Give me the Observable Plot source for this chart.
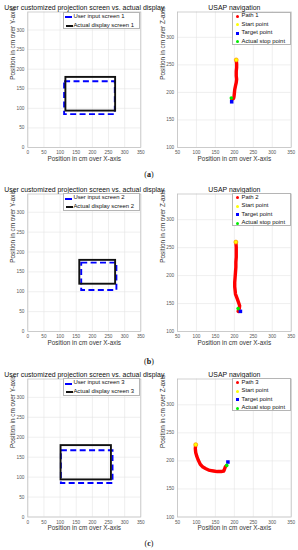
<!DOCTYPE html>
<html>
<head>
<meta charset="utf-8">
<script src="https://cdn.jsdelivr.net/npm/d3@7"></script>
<script src="https://cdn.jsdelivr.net/npm/@observablehq/plot@0.6"></script>
<style>
  html, body { margin: 0; padding: 0; background: #fff; }
  #page { position: relative; width: 298px; height: 550px; overflow: hidden; font-family: "Liberation Sans", Arial, sans-serif; }
  .panel { position: absolute; }
  .legend { position: absolute; background: #fff; border: 0.6px solid #b5b5b5; box-sizing: border-box; }
  .legend .row { position: absolute; left: 0; white-space: nowrap; font-size: 5.9px; line-height: 1; color: #111; }
  .legend .sw { position: absolute; }
  .sub { position: absolute; font-family: "Liberation Serif", "DejaVu Serif", serif; font-size: 8px; color: #111; transform: translate(-50%, -50%); }
</style>
</head>
<body>
<div id="page"></div>
<script>
// ---------- data ----------
const panelLetters = ["a", "b", "c"];
const screenTitle = "User customized projection screen vs. actual display";
const navTitle = "USAP navigation";
const screenXLabel = "Position in cm over X-axis";
const screenYLabel = "Position in cm over Y-axis";
const navXLabel = "Position in cm over X-axis";
const navYLabel = "Position in cm over Z-axis";

const xTicksScreen = [0, 50, 100, 150, 200, 250, 300, 350];
const yTicksScreen = [0, 50, 100, 150, 200, 250, 300];
const xTicksNav = [50, 100, 150, 200, 250, 300, 350];
const yTicksNav = [100, 150, 200, 250, 300];

const userLabels = ["User input screen 1", "User input screen 2", "User input screen 3"];
const actualLabels = ["Actual display screen 1", "Actual display screen 2", "Actual display screen 3"];
const pathLabels = ["Path 1", "Path 2", "Path 3"];
const pointLabels = ["Start point", "Target point", "Actual stop point"];

const userScreenX1 = [114, 167, 104];
const userScreenX2 = [271, 276, 264];
const userScreenY1 = [84, 103, 84];
const userScreenY2 = [168, 172, 166];

const actualScreenX1 = [118, 161, 103];
const actualScreenX2 = [272, 272, 259];
const actualScreenY1 = [93, 119, 93];
const actualScreenY2 = [179, 179, 179];

const path1X = [205, 206, 206, 205, 205, 206, 205, 203, 201, 200, 199, 198, 195, 193];
const path1Y = [259, 252, 245, 238, 230, 224, 218, 212, 205, 198, 192, 189, 188, 188];
const path2X = [204, 205, 205, 205, 204, 204, 203, 202, 201, 201, 203, 208, 212, 214, 213, 211, 210];
const path2Y = [260, 251, 242, 233, 224, 215, 206, 197, 188, 180, 167, 158, 150, 146, 141, 138, 136];
const path3X = [98, 97, 98, 101, 105, 110, 117, 125, 135, 145, 155, 165, 172, 174, 176, 178];
const path3Y = [229, 222, 215, 208, 201, 194, 189, 186, 183, 182, 181, 181, 182, 185, 189, 191];

const startX = [205, 204, 98];
const startY = [259, 260, 229];
const targetX = [193, 216, 183];
const targetY = [183, 136, 198];
const stopX = [192, 210, 180];
const stopY = [190, 141, 192];

const pathsX = [path1X, path2X, path3X];
const pathsY = [path1Y, path2Y, path3Y];

// ---------- layout ----------
const W = 149, H = 183;
const rowTop = [0, 181.5, 366.5];
const frameTop = 11.5;
const frameH = [135.5, 137.5, 138];
const subLabelY = [174, 361, 543];

const RED = "#ff0000", YELLOW = "#ffff00", BLUE = "#0000ff", GREEN = "#00ee00";
const gridStyle = {stroke: "#e4e4e4", strokeOpacity: 1, strokeWidth: 0.6};
const plotStyle = {background: "transparent", overflow: "visible", fontFamily: "'Liberation Sans', Arial, sans-serif"};

function commonMarks(xt, yt, title, xl, yl) {
  return [
    Plot.gridX(xt, gridStyle),
    Plot.gridY(yt, gridStyle),
    Plot.frame({stroke: "#bdbdbd", strokeWidth: 0.7}),
    Plot.axisX(xt, {tickSize: 0, tickPadding: 3.2, fontSize: 4.7, color: "#555", label: null}),
    Plot.axisY(yt, {tickSize: 0, tickPadding: 3.4, fontSize: 4.7, color: "#555", label: null}),
    Plot.text([title], {text: d => d, frameAnchor: "top", dy: -7, fontSize: 6.9, fill: "#111"}),
    Plot.text([xl], {text: d => d, frameAnchor: "bottom", dy: 13, fontSize: 6.4, fill: "#333"}),
    Plot.text([yl], {text: d => d, frameAnchor: "left", dx: -14.5, rotate: -90, fontSize: 6.4, fill: "#333"})
  ];
}

function screenPanel(i) {
  const userRect = [{x1: userScreenX1[i], x2: userScreenX2[i], y1: userScreenY1[i], y2: userScreenY2[i]}];
  const actualRect = [{x1: actualScreenX1[i], x2: actualScreenX2[i], y1: actualScreenY1[i], y2: actualScreenY2[i]}];
  return Plot.plot({
    width: W, height: H,
    marginLeft: 27.3, marginRight: 8.7, marginTop: frameTop, marginBottom: H - frameTop - frameH[i],
    x: {domain: [0, 350], label: null},
    y: {domain: [0, 346], label: null},
    style: plotStyle,
    marks: [
      ...commonMarks(xTicksScreen, yTicksScreen, screenTitle, screenXLabel, screenYLabel),
      Plot.rect(userRect, {x1: "x1", x2: "x2", y1: "y1", y2: "y2", fill: "none", stroke: BLUE, strokeWidth: 1.9, strokeDasharray: "6,3.4"}),
      Plot.rect(actualRect, {x1: "x1", x2: "x2", y1: "y1", y2: "y2", fill: "none", stroke: "#111", strokeWidth: 1.9})
    ]
  });
}

function navPanel(i) {
  const pts = pathsX[i].map((x, k) => ({x, y: pathsY[i][k]}));
  return Plot.plot({
    width: W, height: H,
    marginLeft: 28, marginRight: 7.3, marginTop: frameTop, marginBottom: H - frameTop - frameH[i],
    x: {domain: [50, 350], label: null},
    y: {domain: [100, 346], label: null},
    style: plotStyle,
    marks: [
      ...commonMarks(xTicksNav, yTicksNav, navTitle, navXLabel, navYLabel),
      Plot.line(pts, {x: "x", y: "y", stroke: RED, strokeWidth: 3.4, strokeLinecap: "round", strokeLinejoin: "round"}),
      Plot.dot([{x: startX[i], y: startY[i]}], {x: "x", y: "y", r: 2, fill: YELLOW, stroke: "#ff9a00", strokeWidth: 0.7}),
      Plot.dot([{x: targetX[i], y: targetY[i]}], {x: "x", y: "y", r: 2, symbol: "square", fill: BLUE}),
      Plot.dot([{x: stopX[i], y: stopY[i]}], {x: "x", y: "y", r: 1.8, fill: GREEN})
    ]
  });
}

const page = document.getElementById("page");

function place(node, left, top) {
  const d = document.createElement("div");
  d.className = "panel";
  d.style.left = left + "px";
  d.style.top = top + "px";
  d.appendChild(node);
  page.appendChild(d);
  return d;
}

function legend(left, top, width, height, rows) {
  const box = document.createElement("div");
  box.className = "legend";
  Object.assign(box.style, {left: left + "px", top: top + "px", width: width + "px", height: height + "px"});
  for (const r of rows) {
    const sw = document.createElement("div");
    sw.className = "sw";
    Object.assign(sw.style, r.sw);
    box.appendChild(sw);
    const t = document.createElement("div");
    t.className = "row";
    t.textContent = r.text;
    t.style.left = r.tx + "px";
    t.style.top = (r.cy - 3.1) + "px";
    box.appendChild(t);
  }
  page.appendChild(box);
}

for (let i = 0; i < 3; i++) {
  place(screenPanel(i), 0, rowTop[i]);
  place(navPanel(i), 149, rowTop[i]);
  const ft = rowTop[i] + frameTop;

  legend(63, ft + 0.4, 77.3, 17.5, [
    {text: userLabels[i], tx: 9.4, cy: 4.2,
     sw: {left: "1.2px", top: "3.3px", width: "6.6px", height: "1.9px", background: BLUE}},
    {text: actualLabels[i], tx: 9.4, cy: 12.8,
     sw: {left: "1.8px", top: "11.9px", width: "7.2px", height: "1.9px", background: "#111"}}
  ]);

  const dot = (c, cy, sq) => ({left: "2.6px", top: (cy - 1.6) + "px", width: "3.2px", height: "3.2px", background: c, borderRadius: sq ? "0" : "50%"});
  legend(232.3, ft, 58.4, 33, [
    {text: pathLabels[i], tx: 8.2, cy: 3.9, sw: dot(RED, 3.9)},
    {text: pointLabels[0], tx: 8.2, cy: 12.4, sw: dot(YELLOW, 12.4)},
    {text: pointLabels[1], tx: 8.2, cy: 20.9, sw: dot(BLUE, 20.9, true)},
    {text: pointLabels[2], tx: 8.2, cy: 29.2, sw: dot(GREEN, 29.2)}
  ]);

  const s = document.createElement("div");
  s.className = "sub";
  s.style.left = "149px";
  s.style.top = subLabelY[i] + "px";
  s.innerHTML = "(<b>" + panelLetters[i] + "</b>)";
  page.appendChild(s);
}
</script>
</body>
</html>
